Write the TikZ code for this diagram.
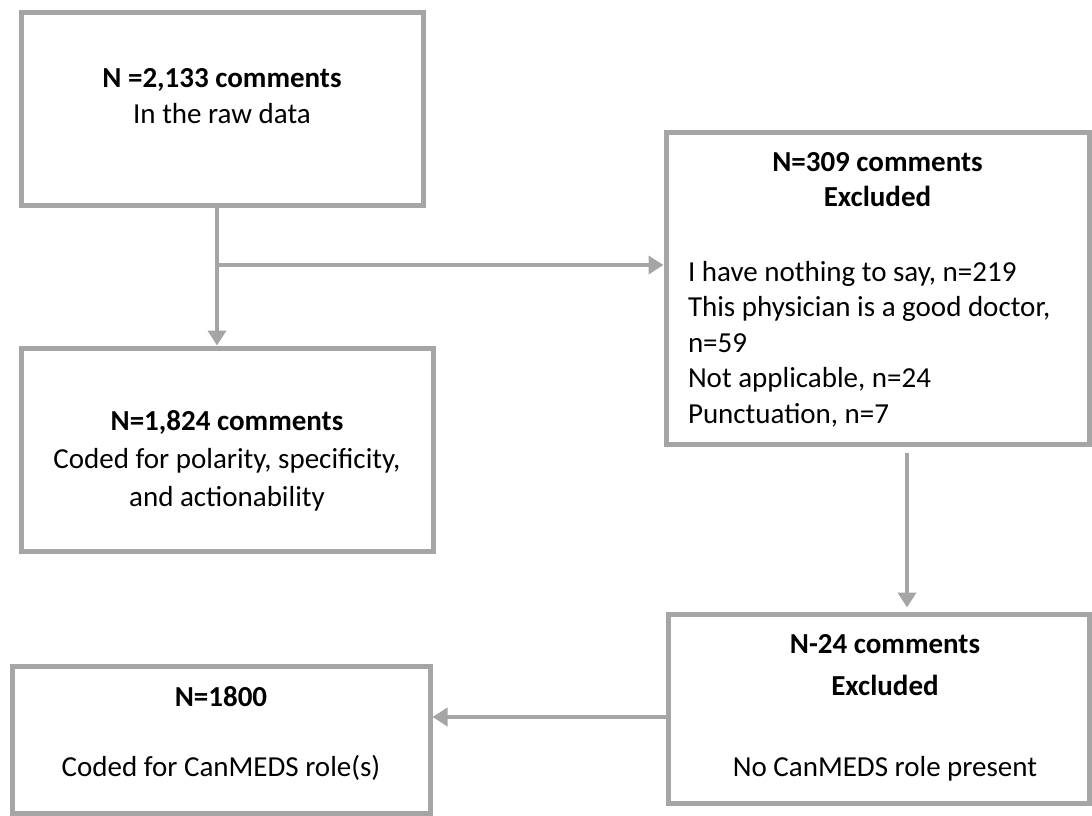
\documentclass[tikz,border=0pt]{standalone}
\usepackage{fontspec}
\setmainfont{Carlito}
\usepackage{xcolor}
\usepackage{tikz}
\usetikzlibrary{arrows.meta,positioning,calc}
\definecolor{boxgray}{HTML}{A5A5A5}

\begin{document}
\begin{tikzpicture}[
  font=\fontsize{29}{35.4}\selectfont,
  box/.style={rectangle,draw=boxgray,line width=5pt,fill=white,align=center,inner sep=6pt},
  ar/.style={draw=boxgray,line width=4.5pt,-{Triangle[length=15pt,width=18pt]}}
]
\useasboundingbox (0,0) rectangle (1092pt,-815pt);
\node[box,minimum width=402pt,minimum height=193pt,text height=60pt,text depth=31pt] (raw) at (222pt,-108.5pt) {\textbf{N =2,133 comments}\\ In the raw data};
\node[box,minimum width=412pt,minimum height=203pt,text height=140pt,text depth=27pt,below=138pt of raw,xshift=5pt] (coded) {\textbf{N=1,824 comments}\\[2.6pt] Coded for polarity, specificity,\\[2.6pt] and actionability};
\node[box,minimum width=423pt,minimum height=312pt,text height=20pt,text depth=254pt,text width=379pt,align=flush left,right=238pt of raw,yshift=-179.5pt] (excl) {{\centering\textbf{N=309 comments}\\ \textbf{Excluded}\par}\vspace{39.6pt}I have nothing to say, n=219\\ This physician is a good doctor,\\ n=59\\ Not applicable, n=24\\ Punctuation, n=7};
\node[box,minimum width=421pt,minimum height=189pt,text height=150pt,text depth=15pt,below=165pt of excl,xshift=1pt] (norole) {\hspace*{13pt}\textbf{N-24 comments}\\[6.6pt] \hspace*{13pt}\textbf{Excluded}\\[45.6pt] \hspace*{13pt}No CanMEDS role present};
\node[box,minimum width=418pt,minimum height=147pt,text height=90pt,text depth=17pt,left=233pt of norole,yshift=-31pt] (roles) {\textbf{N=1800}\\[34.6pt] Coded for CanMEDS role(s)};

\coordinate[below=57.5pt of raw.south,xshift=-5pt] (split);

\draw[ar] ([xshift=-5pt]raw.south) -- ([xshift=-5pt]raw.south |- coded.north);
\draw[ar] (split) -- (split -| excl.west);
\draw[ar] ([xshift=29.5pt,yshift=-6pt]excl.south) -- ([xshift=28.5pt,yshift=4pt]norole.north);
\draw[ar] ([yshift=-8.5pt]norole.west) -- ([yshift=-8.5pt]norole.west -| roles.east);
\end{tikzpicture}
\end{document}
